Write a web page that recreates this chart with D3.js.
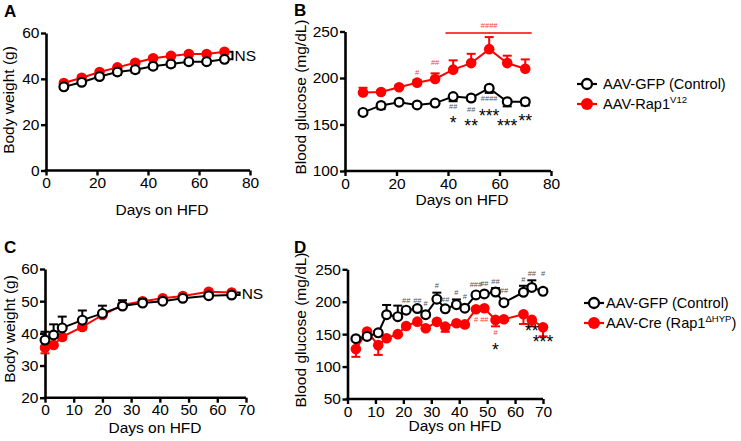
<!DOCTYPE html>
<html><head><meta charset="utf-8">
<script src="https://cdn.jsdelivr.net/npm/d3@7"></script>
<style>
body{margin:0;background:#fff}
svg{display:block}
text{font-family:Arial,"Liberation Sans",sans-serif}
</style>
</head><body>
<svg id="chart" width="741" height="441"></svg>
<script>
// ---------------- DATA ----------------
// Panel A: body weight (g)
const daysA = [7,14,21,28,35,42,49,56,63,70];
const ctrlA = [36.5,38.5,41,43,44,45.5,46.5,47.5,47.5,48.5];
const ctrlAErr = [0.8,0.8,0.8,1.2,1.2,1.2,1.2,1,1,1];
const rapA = [38.2,40.5,43,45,47,49,50,50.8,50.8,51.8];
const rapAErr = [0.6,0.8,0.8,0.8,0.8,0.8,0.8,0.8,0.8,0.8];
const xTicksA = [0,20,40,60,80];
const yTicksA = [0,20,40,60];

// Panel B: blood glucose (mg/dL)
const daysB = [7,14,21,28,35,42,49,56,63,70];
const ctrlB = [163,170.5,174,171,173,180,178.5,189,174.5,174.5];
const ctrlBErr = [2,4,2,2,2,5,3,5,5,4];
const rapB = [184.5,185,190,195,199,209,216,231,216,210];
const rapBErr = [5,2,2,3,6,10,10,13,8,10];
const xTicksB = [0,20,40,60,80];
const yTicksB = [100,150,200,250];
const starsB = [[42,157,"*"],[49,154,"**"],[56,164.5,"***"],[63,154,"***"],[70,159,"**"]];
const hashCtrlB = [[42,170,"##"],[49,166.7,"##"],[56,178.5,"####"]];
const hashRapB = [[28,205.7,"#"],[35,217,"##"],[56,257,"####"]];
const spanRapB = [39,72.5,248.4];

// Panel C: body weight (g)
const daysC = [0,3,6,13,20,27,34,41,48,57,65];
const ctrlC = [37.9,39.5,41.7,44.1,46.2,48.5,49.4,50,50.9,51.7,51.9];
const ctrlCErr = [2.6,3.3,3.5,3,2.4,1.8,1.2,0.8,0.6,0.5,0.5];
const creC = [35.6,36.4,38.9,42,45.7,48.8,50,50.9,51.6,52.9,52.7];
const creCErr = [1.8,0.6,0.8,0.8,0.6,0.5,0.5,0.5,0.5,0.5,0.5];
const xTicksC = [0,10,20,30,40,50,60,70];
const yTicksC = [20,30,40,50,60];

// Panel D: blood glucose (mg/dL)
const daysD = [3,7,11,14,18,21,25,28,32,35,39,42,46,49,53,56,63,66,70];
const ctrlD = [143,146.5,152,180,177,187,189.5,180,204,189,195.5,190,210.5,212,215,198.6,214.6,222,216];
const ctrlDErr = [2,2,3,15,17,3,3,3,10,3,8,3,3,3,6,3,10,11,4];
const creD = [127,154,133,143.6,150,162.6,169.3,159,169,161.6,166.8,165,188.4,190,172,173,180.7,172,160.6];
const creDErr = [12,3,15,3,3,3,3,3,3,8,3,3,3,4,10,3,15,10,14];
const xTicksD = [0,10,20,30,40,50,60,70];
const yTicksD = [50,100,150,200,250];
const starsD = [[53,133,"*"],[66,162.6,"**"],[70,145.7,"***"]];
const hashCtrlD = [[21,201.7,"##"],[25,201.7,"##"],[28,197.7,"#"],[32,224.9,"#"],[35,203.9,"##"],[39,214,"#"],[42,207.9,"#"],[46,227.5,"###"],[49,228.5,"##"],[53,231,"##"],[56,217,"##"],[63,235,"#"],[66,243,"##"],[70,243,"#"]];
const hashCreD = [[46,173,"#"],[49,173,"##"],[53,153,"#"]];

// Legends
const legendB = ["AAV-GFP (Control)", "AAV-Rap1", "V12", ""];
const legendD = ["AAV-GFP (Control)", "AAV-Cre (Rap1", "\u0394HYP", ")"];

// ---------------- DRAWING ----------------
const svg = d3.select("#chart");
const RED = "#ff0000";
const RED_LIGHT = "#ff3b3b";
const GRAY = "#555";

function panel(cfg) {
  const g = svg.append("g");
  const x = d3.scaleLinear().domain(cfg.xDomain).range(cfg.xRange);
  const y = d3.scaleLinear().domain(cfg.yDomain).range(cfg.yRange);

  const xa = g.append("g").attr("transform", `translate(0,${cfg.yRange[0]})`)
    .call(d3.axisBottom(x).tickValues(cfg.xTicks).tickSize(5).tickSizeOuter(0).tickPadding(1.5));
  const ya = g.append("g").attr("transform", `translate(${cfg.xRange[0]},0)`)
    .call(d3.axisLeft(y).tickValues(cfg.yTicks).tickSize(5).tickSizeOuter(0).tickPadding(1.5));
  [xa, ya].forEach(a => {
    a.select(".domain").attr("stroke", "#000").attr("stroke-width", 2.6);
    a.selectAll(".tick line").attr("stroke", "#000").attr("stroke-width", 2.4);
    a.selectAll(".tick text").attr("fill", "#000").style("font-size", "15.5px");
  });
  xa.select(".domain").attr("d", `M${cfg.xRange[0]-1.3},0H${cfg.xRange[1]}`);

  g.append("text").attr("x", cfg.xTitle[0]).attr("y", cfg.xTitle[1])
    .attr("text-anchor", "middle").style("font-size", "15.5px").text("Days on HFD");
  g.append("text").attr("transform", `translate(${cfg.yTitle[0]},${cfg.yTitle[1]}) rotate(-90)`)
    .attr("text-anchor", "middle").style("font-size", "15.5px").text(cfg.yLabel);
  g.append("text").attr("x", cfg.letter[0]).attr("y", cfg.letter[1])
    .style("font-size", "17px").style("font-weight", "bold").text(cfg.letterText);

  const line = d3.line().x(d => x(d[0])).y(d => y(d[1]));

  function series(days, vals, errs, dir, color, filled) {
    const pts = days.map((d, i) => [d, vals[i], errs[i]]);
    const sg = g.append("g");
    pts.forEach(p => {
      const yEnd = y(p[1] + dir * p[2]);
      sg.append("line").attr("x1", x(p[0])).attr("x2", x(p[0]))
        .attr("y1", y(p[1])).attr("y2", yEnd).attr("stroke", color).attr("stroke-width", 2);
      sg.append("line").attr("x1", x(p[0]) - 4.5).attr("x2", x(p[0]) + 4.5)
        .attr("y1", yEnd).attr("y2", yEnd).attr("stroke", color).attr("stroke-width", 2);
    });
    sg.append("path").datum(pts).attr("d", line).attr("fill", "none")
      .attr("stroke", color).attr("stroke-width", 2);
    sg.selectAll("circle").data(pts).join("circle")
      .attr("cx", d => x(d[0])).attr("cy", d => y(d[1]))
      .attr("r", filled ? 5.3 : 4.4)
      .attr("fill", filled ? color : "#fff")
      .attr("stroke", color).attr("stroke-width", filled ? 0 : 2.2);
  }
  cfg.series.forEach(s => series(...s));

  function annots(list, color, size) {
    (list || []).forEach(a => {
      g.append("text").attr("x", x(a[0])).attr("y", y(a[1]))
        .attr("text-anchor", "middle").attr("dy", size === "star" ? "0.62em" : "0.35em")
        .style("font-size", size === "star" ? "17.5px" : "7.5px")
        .attr("fill", color).text(a[2]);
    });
  }
  annots(cfg.stars, "#000", "star");
  annots(cfg.hashCtrl, GRAY, "hash");
  annots(cfg.hashOther, RED_LIGHT, "hash");
  if (cfg.span) {
    g.append("line").attr("x1", x(cfg.span[0])).attr("x2", x(cfg.span[1]))
      .attr("y1", y(cfg.span[2])).attr("y2", y(cfg.span[2]))
      .attr("stroke", RED).attr("stroke-width", 1.6);
  }
  if (cfg.ns) {
    const [v1, v2, dd] = cfg.ns;
    const bx = x(dd) + 8;
    const yA = y(v1), yB = y(v2);
    g.append("path").attr("d", `M${bx-3},${yA}H${bx}V${yB}H${bx-3}`)
      .attr("fill", "none").attr("stroke", "#000").attr("stroke-width", 2);
    g.append("text").attr("x", bx + 2).attr("y", (yA + yB) / 2).attr("dy", "0.36em")
      .style("font-size", "15.5px").text("NS");
  }
  return {x, y};
}

function legend(lx, ly, labels, gap, textOff) {
  const g = svg.append("g");
  [0, 1].forEach(i => {
    const yy = ly + i * gap;
    const color = i === 0 ? "#000" : RED;
    g.append("line").attr("x1", lx - 10).attr("x2", lx + 10).attr("y1", yy).attr("y2", yy)
      .attr("stroke", color).attr("stroke-width", 2.2);
    g.append("circle").attr("cx", lx).attr("cy", yy).attr("r", i === 0 ? 5 : 6)
      .attr("fill", i === 0 ? "#fff" : RED).attr("stroke", color).attr("stroke-width", i === 0 ? 2.3 : 0);
    const t = g.append("text").attr("x", lx + textOff).attr("y", yy).attr("dy", "0.36em")
      .style("font-size", "14.6px");
    if (i === 0) t.text(labels[0]);
    else {
      t.append("tspan").text(labels[1]);
      t.append("tspan").attr("dy", "-6").style("font-size", "9.5px").text(labels[2]);
      if (labels[3]) t.append("tspan").attr("dy", "6").text(labels[3]);
    }
  });
}

panel({
  xDomain: [0, 80], xRange: [46, 250], yDomain: [0, 60], yRange: [170.5, 33],
  xTicks: xTicksA, yTicks: yTicksA, xTitle: [162, 215], yTitle: [14, 100],
  yLabel: "Body weight (g)", letter: [4, 17], letterText: "A",
  series: [[daysA, rapA, rapAErr, 1, RED, true], [daysA, ctrlA, ctrlAErr, -1, "#000", false]],
  ns: [rapA[rapA.length-1], ctrlA[ctrlA.length-1], 70]
});

panel({
  xDomain: [0, 80], xRange: [345, 551], yDomain: [100, 250], yRange: [171, 31.5],
  xTicks: xTicksB, yTicks: yTicksB, xTitle: [462, 205], yTitle: [306, 97],
  yLabel: "Blood glucose (mg/dL)", letter: [294, 16], letterText: "B",
  series: [[daysB, rapB, rapBErr, 1, RED, true], [daysB, ctrlB, ctrlBErr, -1, "#000", false]],
  stars: starsB, hashCtrl: hashCtrlB, hashOther: hashRapB, span: spanRapB
});

panel({
  xDomain: [0, 70], xRange: [45, 246], yDomain: [20, 60], yRange: [397.7, 269],
  xTicks: xTicksC, yTicks: yTicksC, xTitle: [155, 433], yTitle: [15, 329],
  yLabel: "Body weight (g)", letter: [4, 253], letterText: "C",
  series: [[daysC, creC, creCErr, -1, RED, true], [daysC, ctrlC, ctrlCErr, 1, "#000", false]],
  ns: [creC[creC.length-1], ctrlC[ctrlC.length-1], 65]
});

panel({
  xDomain: [0, 70], xRange: [347.5, 543], yDomain: [50, 250], yRange: [399, 269.3],
  xTicks: xTicksD, yTicks: yTicksD, xTitle: [455, 431], yTitle: [306, 330],
  yLabel: "Blood glucose (mg/dL)", letter: [294, 253], letterText: "D",
  series: [[daysD, creD, creDErr, -1, RED, true], [daysD, ctrlD, ctrlDErr, 1, "#000", false]],
  stars: starsD, hashCtrl: hashCtrlD, hashOther: hashCreD
});

legend(587, 84, legendB, 20, 16);
legend(594, 303, legendD, 20, 12);
</script>
</body></html>
